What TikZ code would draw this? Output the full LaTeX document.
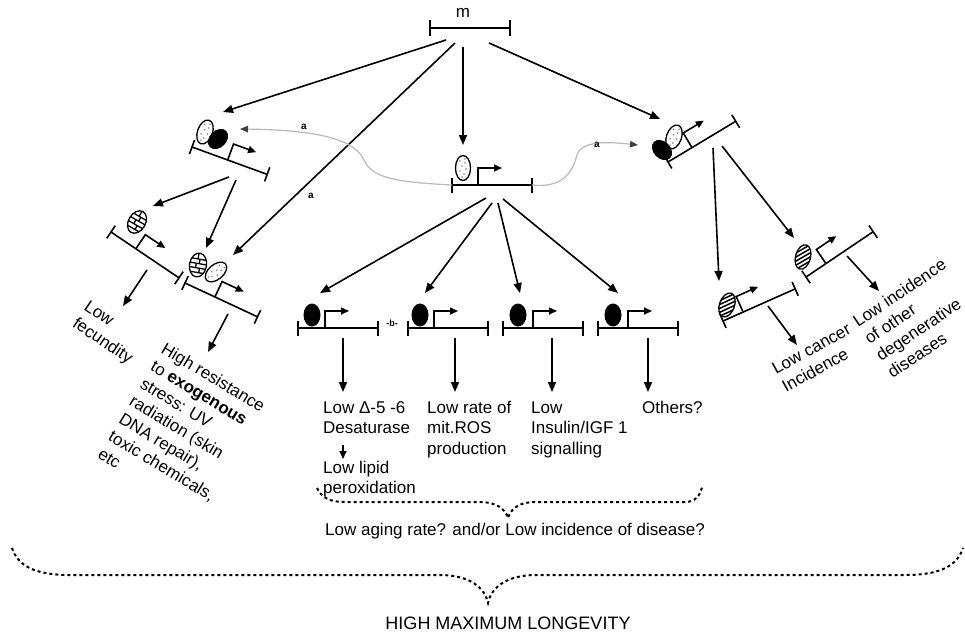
\documentclass[tikz,border=0pt]{standalone}
\usepackage{fontspec}
\setmainfont{Liberation Sans}
\usetikzlibrary{arrows.meta,calc}
\newcommand\txtlines[1]{\begin{tabular}[t]{@{}l@{}}#1\end{tabular}}
\tikzset{
  ln/.style={line width=1.6pt},
  arr/.style={ln,-{Triangle[length=10pt,width=8pt]}},
  txt/.style={inner sep=0pt, anchor=base west, font=\fontsize{17}{20.5}\selectfont},
  lbl/.style={inner sep=0pt, font=\fontsize{10}{12}\selectfont\bfseries},
  graycurve/.style={line width=1.2pt, gray!55, -{Triangle[length=8pt,width=6.5pt,color=black!75]}},
  dashbrace/.style={line width=2pt, dash pattern=on 3pt off 3pt},
  pics/gene/.style 2 args={code={
    \draw[ln] (0,0) -- (#1,0);
    \draw[ln] (0,-7.5) -- (0,7.5) (#1,-7.5) -- (#1,7.5);
    \draw[ln,-{Triangle[length=8pt,width=7pt]}] (#2,0) -- (#2,-17) -- ({#2+24},-17);
    \coordinate (-l) at (0,0);
    \coordinate (-r) at (#1,0);
  }},
  pics/stip/.style={code={
    \draw[line width=1.3pt, fill=white] (0,0) ellipse [x radius=7.5, y radius=12.5];
    \foreach \a/\b in {-3/-7,2/-5,-1/-2,3/1,-3/3,1/6,-1/9,2/-9}
      \fill[gray] (\a,\b) circle (0.9);
  }},
  pics/blk/.style={code={\fill (0,0) ellipse [x radius=8.5, y radius=11.5];}},
  pics/hatch/.style={code={
    \draw[line width=1.3pt, fill=white] (0,0) ellipse [x radius=7.5, y radius=12.5];
    \begin{scope}
      \clip (0,0) ellipse [x radius=7.5, y radius=12.5];
      \foreach \t in {-15,-10,...,15} \draw[line width=1.5pt] ({\t-12},12) -- ({\t+12},-12);
    \end{scope}
  }},
  pics/brick/.style={code={
    \draw[line width=1.3pt, fill=white] (0,0) ellipse [x radius=8.5, y radius=12];
    \begin{scope}
      \clip (0,0) ellipse [x radius=8.5, y radius=12];
      \draw[line width=1.3pt] (-10,-6) -- (10,-6) (-10,-1.5) -- (10,-1.5) (-10,3) -- (10,3) (-10,7.5) -- (10,7.5);
      \draw[line width=1.3pt] (1,-6) -- (1,-1.5) (-2,-1.5) -- (-2,3) (2,3) -- (2,7.5) (-1,-12) -- (-1,-6);
    \end{scope}
  }},
}
\begin{document}
\begin{tikzpicture}[x=1pt,y=-1pt]
\useasboundingbox (0,0) rectangle (965,633);

% ---- top m bar
\node[txt, anchor=base] (m) at (463,17) {m};
\coordinate (mL) at (430,28);
\coordinate (mR) at (510,28);
\draw[ln] (mL) -- (mR);
\draw[ln] ($(mL)+(0,-8)$) -- ($(mL)+(0,8)$) ($(mR)+(0,-8)$) -- ($(mR)+(0,8)$);

% ---- genes
\pic[rotate=-20] (tl) at (192,147) {gene={80}{38}};
\pic (c0) at (452,185) {gene={80}{26}};
\pic[rotate=31] (r0) at (668,162) {gene={79}{28}};
\pic[rotate=24] (r1) at (723,321) {gene={79}{22}};
\pic[rotate=34] (r2) at (806,277) {gene={81}{24}};
\pic[rotate=-34] (l1) at (111,232) {gene={82}{30}};
\pic[rotate=-25] (l2) at (185,283) {gene={80}{33}};
\pic (mA) at (298,328) {gene={80}{27}};
\pic (mB) at (408,328) {gene={80}{26}};
\pic (mC) at (503,328) {gene={80}{30}};
\pic (mD) at (598,328) {gene={80}{30}};

% ---- ellipses
\pic[rotate=-20] at (205,132) {stip};
\pic[rotate=-45] at (218,139) {blk};
\pic at (463,168) {stip};
\pic[rotate=-20] at (674,137) {stip};
\pic[rotate=45] at (662,150) {blk};
\pic[rotate=-20] at (727,305) {hatch};
\pic[rotate=-15] at (803,257) {hatch};
\pic[rotate=-30] at (137,222) {brick};
\pic[rotate=-10] at (198,265) {brick};
\pic[rotate=-50] at (216,272) {stip};
\pic at (312,315) {blk};
\pic at (420,315) {blk};
\pic at (518,315) {blk};
\pic at (613,315) {blk};

% ---- connector end points
\coordinate (m-o1) at (446,40);
\coordinate (m-o2) at (455,43);
\coordinate (m-o3) at (463,47);
\coordinate (m-o4) at (489,43);
\coordinate (tl-in) at (223,112);
\coordinate (l2-in) at (233,255);
\coordinate (c0-in) at (463,145);
\coordinate (r0-in) at (660,119);
\coordinate (tl-o1) at (229,177);
\coordinate (tl-o2) at (236,180);
\coordinate (l1-in) at (153,206);
\coordinate (l2-in2) at (206,248);
\coordinate (l1-o) at (147,270);
\coordinate (fec-in) at (123,306);
\coordinate (l2-o) at (228,314);
\coordinate (res-in) at (208,352);
\coordinate (c0-o1) at (486,198);
\coordinate (c0-o2) at (492,203);
\coordinate (c0-o3) at (498,203);
\coordinate (c0-o4) at (503,199);
\coordinate (mA-in) at (320,293);
\coordinate (mB-in) at (425,293);
\coordinate (mC-in) at (520,293);
\coordinate (mD-in) at (618,293);
\coordinate (r0-o1) at (713,148);
\coordinate (r0-o2) at (722,146);
\coordinate (r1-in) at (719,281);
\coordinate (r2-in) at (794,238);
\coordinate (r1-o) at (768,306);
\coordinate (can-in) at (797,345);
\coordinate (r2-o) at (847,256);
\coordinate (deg-in) at (879,291);
\coordinate (mA-o) at (343,338);
\coordinate (mB-o) at (455,338);
\coordinate (mC-o) at (552,338);
\coordinate (mD-o) at (648,338);
\coordinate (mA-e) at (343,392);
\coordinate (mB-e) at (455,392);
\coordinate (mC-e) at (552,392);
\coordinate (mD-e) at (648,392);
\coordinate (des-o) at (343,445);
\coordinate (lip-in) at (343,459);
\coordinate (tl-a) at (240,129);
\coordinate (r0-a) at (638,145);

% ---- arrows
\draw[arr] (m-o1) -- (tl-in);
\draw[arr] (m-o2) -- (l2-in);
\draw[arr] (m-o3) -- (c0-in);
\draw[arr] (m-o4) -- (r0-in);
\draw[arr] (tl-o1) -- (l1-in);
\draw[arr] (tl-o2) -- (l2-in2);
\draw[arr] (l1-o) -- (fec-in);
\draw[arr] (l2-o) -- (res-in);
\draw[arr] (c0-o1) -- (mA-in);
\draw[arr] (c0-o2) -- (mB-in);
\draw[arr] (c0-o3) -- (mC-in);
\draw[arr] (c0-o4) -- (mD-in);
\draw[arr] (r0-o1) -- (r1-in);
\draw[arr] (r0-o2) -- (r2-in);
\draw[arr] (r1-o) -- (can-in);
\draw[arr] (r2-o) -- (deg-in);
\draw[arr] (mA-o) -- (mA-e);
\draw[arr] (mB-o) -- (mB-e);
\draw[arr] (mC-o) -- (mC-e);
\draw[arr] (mD-o) -- (mD-e);
\draw[ln,-{Triangle[length=8pt,width=7pt]}] (des-o) -- (lip-in);

% ---- gray curves
\draw[graycurve] (c0-l) .. controls (395,182) and (372,178) .. (364,160) .. controls (355,140) and (320,130) .. (tl-a);
\draw[graycurve] (c0-r) .. controls (560,188) and (572,175) .. (577,155) .. controls (582,140) and (610,142) .. (r0-a);

% ---- small labels
\node[lbl] (a1) at (304,127) {a};
\node[lbl] (a2) at (311,196) {a};
\node[lbl] (a3) at (597,145) {a};
\node[lbl, font=\fontsize{9}{11}\selectfont\bfseries] (b1) at (392,323) {-b-};

% ---- texts
\node[txt, rotate=-34] (fec) at (83,309) {\txtlines{Low\\fecundity}};
\node[txt, rotate=-31] (res) at (160,352) {\txtlines{High resistance\\to {\bfseries exogenous}\\stress: UV\\radiation (skin\\DNA repair),\\toxic chemicals,\\etc}};
\node[txt] (des) at (323,413) {\txtlines{Low Δ-5 -6\\Desaturase}};
\node[txt] (lip) at (323,473) {\txtlines{Low lipid\\peroxidation}};
\node[txt] (ros) at (427,413) {\txtlines{Low rate of\\mit.ROS\\production}};
\node[txt] (ins) at (531,413) {\txtlines{Low\\Insulin/IGF 1\\signalling}};
\node[txt] (oth) at (642,413) {Others?};
\node[txt, rotate=29] (can) at (776,375) {\txtlines{Low cancer\\Incidence}};
\node[txt, rotate=34] (deg) at (858,328) {\txtlines{Low incidence\\of other\\degenerative\\diseases}};
\node[txt, anchor=base] (aging) at (515,535) {Low aging rate? and/or Low incidence of disease?};
\node[txt, anchor=base, font=\fontsize{18}{20}\selectfont] (longev) at (508,629) {HIGH MAXIMUM LONGEVITY};

% ---- braces
\draw[dashbrace] (317,488) .. controls (322,498) and (330,502) .. (345,502) -- (480,502) .. controls (495,502) and (505,508) .. (508,518) .. controls (511,508) and (520,502) .. (535,502) -- (685,502) .. controls (695,502) and (700,496) .. (702,487);
\draw[dashbrace] (12,548) .. controls (18,566) and (35,575) .. (70,575) -- (440,575) .. controls (470,575) and (485,588) .. (488,603) .. controls (491,588) and (506,575) .. (536,575) -- (905,575) .. controls (940,575) and (957,566) .. (963,548);
\end{tikzpicture}
\end{document}
